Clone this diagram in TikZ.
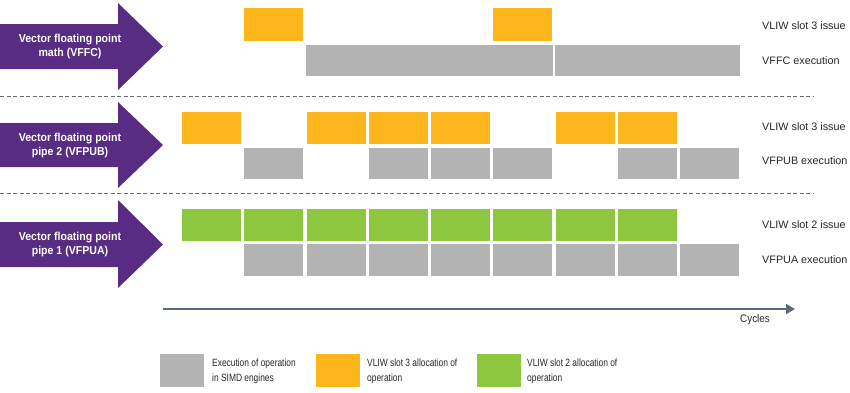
\documentclass[tikz,border=0pt]{standalone}
\usepackage{fontspec}
\usepackage{graphicx}
\setmainfont{Liberation Sans}
\usetikzlibrary{arrows.meta}
\definecolor{vpurple}{HTML}{582C83}
\definecolor{vorange}{HTML}{FDB71C}
\definecolor{vgreen}{HTML}{8DC63F}
\definecolor{vgray}{HTML}{B3B3B3}
\definecolor{vaxis}{HTML}{5B6A7E}
\definecolor{vdash}{HTML}{6A6A6A}
\newcommand\cbox[4]{\pgfmathsetmacro\xa{182+62.25*#2}\fill[#1] (\xa,#3) rectangle ++(59,#4);}
\newcommand\cnd[1]{\scalebox{0.8}[1]{#1}}
\newcommand\anr[1]{\scalebox{0.92}[1]{#1}}
\begin{document}
\begin{tikzpicture}[x=1pt,y=-1pt,
  arrowtext/.style={text=white,font=\fontsize{11.5}{14}\selectfont\bfseries,align=center},
  rowlabel/.style={anchor=west,font=\fontsize{10.8}{13}\selectfont,text=black!85,inner sep=0pt},
  legtext/.style={anchor=west,font=\fontsize{10.5}{15}\selectfont,align=left,text=black!85,inner sep=0pt},
  sep/.style={vdash,line width=1pt,dash pattern=on 4pt off 2.5pt}]
\useasboundingbox (0,0) rectangle (850,392);
% purple arrows
\fill[vpurple] (0,24) -- (118,24) -- (118,3) -- (163,46.5) -- (118,90) -- (118,69) -- (0,69) -- cycle;
\fill[vpurple] (0,123) -- (118,123) -- (118,102) -- (163,145) -- (118,188) -- (118,167) -- (0,167) -- cycle;
\fill[vpurple] (0,222) -- (118,222) -- (118,200) -- (163,244.5) -- (118,288) -- (118,267) -- (0,267) -- cycle;
\node[arrowtext] (a1) at (70,47) {\anr{Vector floating point}\\\anr{math (VFFC)}};
\node[arrowtext] (a2) at (70,146) {\anr{Vector floating point}\\\anr{pipe 2 (VFPUB)}};
\node[arrowtext] (a3) at (70,245) {\anr{Vector floating point}\\\anr{pipe 1 (VFPUA)}};
% separators
\coordinate (s1a) at (0,96); \coordinate (s1b) at (813,96);
\coordinate (s2a) at (0,193); \coordinate (s2b) at (813,193);
\draw[sep] (s1a) -- (s1b);
\draw[sep] (s2a) -- (s2b);
% row 1
\cbox{vorange}{1}{8}{33}
\cbox{vorange}{5}{8}{33}
\fill[vgray] (306,45) rectangle (552.5,76);
\fill[vgray] (555,45) rectangle (740,76);
% row 2
\foreach \c in {0,2,3,4,6,7} {\cbox{vorange}{\c}{112}{32}}
\foreach \c in {1,3,4,5,7,8} {\cbox{vgray}{\c}{148}{31}}
% row 3
\foreach \c in {0,...,7} {\cbox{vgreen}{\c}{209}{32}}
\foreach \c in {1,...,8} {\cbox{vgray}{\c}{244}{32}}
% row labels
\node[rowlabel] (l1) at (762,26) {VLIW slot 3 issue};
\node[rowlabel] (l2) at (762,60.5) {VFFC execution};
\node[rowlabel] (l3) at (762,127) {VLIW slot 3 issue};
\node[rowlabel] (l4) at (762,161) {VFPUB execution};
\node[rowlabel] (l5) at (762,225) {VLIW slot 2 issue};
\node[rowlabel] (l6) at (762,260) {VFPUA execution};
% axis
\coordinate (axs) at (163,309);
\coordinate (axe) at (795,309);
\draw[vaxis,line width=2pt,-{Triangle[length=9pt,width=10pt]}] (axs) -- (axe);
\node[font=\fontsize{11}{13}\selectfont,text=black!85] (cyc) at (755,320) {\scalebox{0.9}[1]{Cycles}};
% legend
\fill[vgray] (160,354) rectangle (204,387);
\fill[vorange] (316,354) rectangle (360,387);
\fill[vgreen] (477,354) rectangle (521,387);
\node[legtext] (g1) at (212,371.5) {\cnd{Execution of operation}\\\cnd{in SIMD engines}};
\node[legtext] (g2) at (367,371.5) {\cnd{VLIW slot 3 allocation of}\\\cnd{operation}};
\node[legtext] (g3) at (527,371.5) {\cnd{VLIW slot 2 allocation of}\\\cnd{operation}};
\end{tikzpicture}
\end{document}
